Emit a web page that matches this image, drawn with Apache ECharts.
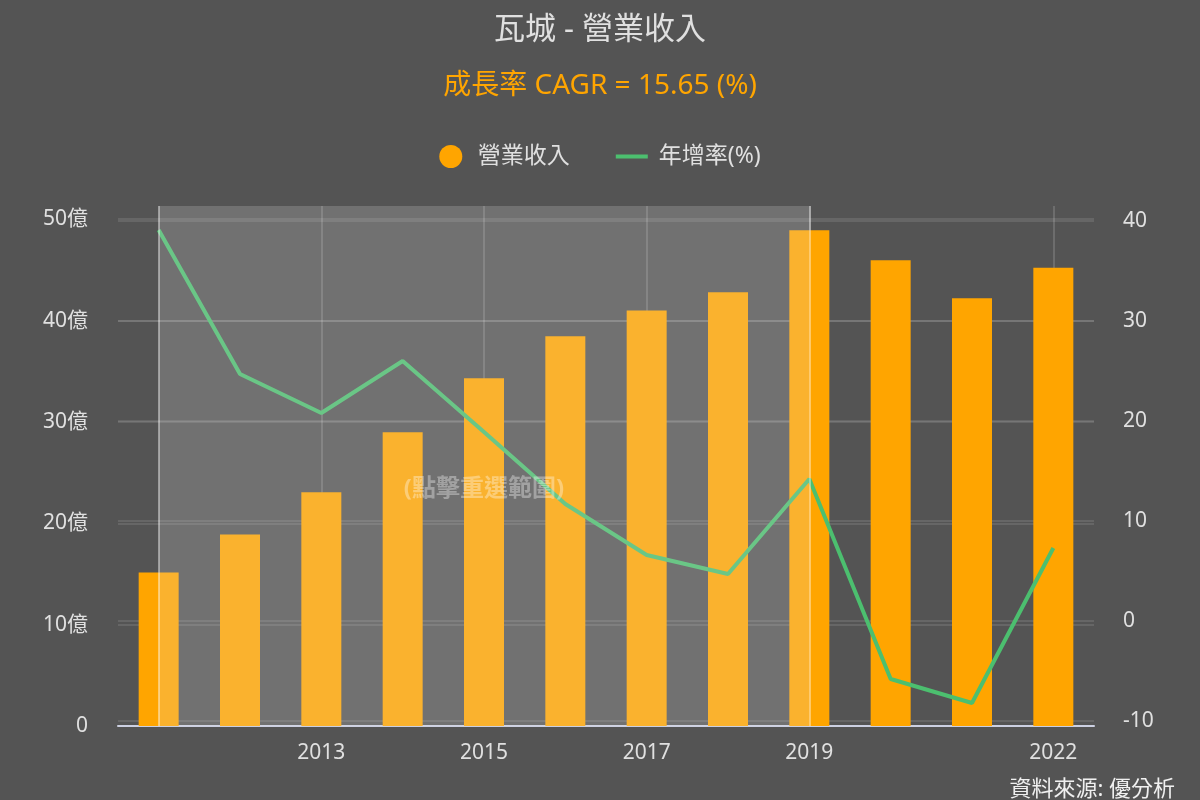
<!DOCTYPE html>
<html>
<head>
<meta charset="utf-8">
<script src="https://cdn.jsdelivr.net/npm/echarts@6/dist/echarts.min.js"></script>
<style>
  html, body { margin: 0; padding: 0; background: #545454; }
  #main { width: 1200px; height: 800px; }
</style>
</head>
<body>
<div id="main"></div>
<script>
// 年度
var years = ['2011', '2012', '2013', '2014', '2015', '2016', '2017', '2018', '2019', '2020', '2021', '2022'];
// 營業收入 (億)
var revenue = [15.15, 18.9, 23.05, 28.97, 34.3, 38.45, 41.0, 42.8, 48.9, 45.95, 42.2, 45.2];
// 年增率 (%)
var growth = [39.1, 24.7, 20.8, 26.0, 18.9, 11.7, 6.6, 4.7, 14.2, -5.8, -8.2, 7.3];
// x 軸顯示的年份
var labelYears = ['2013', '2015', '2017', '2019', '2022'];
// 選取範圍
var rangeStart = '2011';
var rangeEnd = '2019';

var FONT = '"Noto Sans", "Noto Sans CJK TC", sans-serif';
var GRID_LINE = 'rgba(255,255,255,0.15)';
var NONE = 'rgba(0,0,0,0)';
var myChart = echarts.init(document.getElementById('main'));

function showYear(index, value) {
    return labelYears.indexOf(value) >= 0;
}

option = {
    backgroundColor: '#545454',
    animation: false,
    textStyle: { fontFamily: FONT },
    title: [{
        text: '瓦城 - 營業收入',
        left: 'center',
        top: 10,
        textStyle: { color: '#e0e0e0', fontSize: 31, fontWeight: 'normal', fontFamily: FONT }
    }, {
        text: '成長率 CAGR = 15.65 (%)',
        left: 'center',
        top: 67,
        textStyle: { color: '#ffa500', fontSize: 28, fontWeight: 'normal', fontFamily: FONT }
    }, {
        text: '資料來源: 優分析',
        right: 20,
        bottom: -6,
        textStyle: { color: '#f0f0f0', fontSize: 22, fontWeight: 'normal', fontFamily: FONT }
    }],
    legend: {
        top: 140,
        left: 'center',
        itemWidth: 32,
        itemHeight: 23,
        itemGap: 46,
        textStyle: { color: '#e0e0e0', fontSize: 23, padding: [0, 0, 0, 6], fontFamily: FONT },
        data: [
            { name: '營業收入', icon: 'circle' },
            { name: '年增率(%)', icon: 'path://M0,0H32V4H0Z' }
        ]
    },
    grid: {
        left: 118,
        right: 106,
        top: 206,
        bottom: 74
    },
    xAxis: {
        type: 'category',
        data: years,
        axisLine: { lineStyle: { color: '#ccd0e2', width: 2 } },
        axisTick: { show: false },
        axisLabel: {
            interval: showYear,
            color: '#e0e0e0',
            fontSize: 21,
            margin: 17,
            fontFamily: FONT
        },
        splitLine: {
            show: true,
            interval: showYear,
            alignWithLabel: true,
            lineStyle: { color: GRID_LINE, width: 2 }
        }
    },
    yAxis: [{
        type: 'value',
        min: 0,
        max: 51.3,
        interval: 10,
        axisLine: { show: false },
        axisTick: { show: false },
        axisLabel: {
            color: '#e0e0e0',
            fontSize: 21,
            margin: 30,
            fontFamily: FONT,
            formatter: function (v) {
                if (v % 10 !== 0) return '';
                return v === 0 ? '0' : v + '億';
            }
        },
        splitLine: {
            lineStyle: { color: [NONE, GRID_LINE, GRID_LINE, GRID_LINE, GRID_LINE, GRID_LINE, NONE], width: 1.5 }
        }
    }, {
        type: 'value',
        min: -10.5,
        max: 41.5,
        axisLine: { show: false },
        axisTick: { show: false },
        axisLabel: {
            color: '#e0e0e0',
            fontSize: 21,
            margin: 29,
            fontFamily: FONT,
            formatter: function (v) {
                return v % 10 === 0 ? String(v) : '';
            }
        },
        splitLine: {
            lineStyle: { color: [NONE, GRID_LINE, GRID_LINE, GRID_LINE, GRID_LINE, GRID_LINE, GRID_LINE, NONE], width: 1.5 }
        }
    }],
    series: [{
        name: '營業收入',
        type: 'bar',
        barWidth: 40,
        data: revenue,
        itemStyle: { color: '#ffa500' },
        markLine: {
            z: 11,
            silent: true,
            symbol: ['none', 'none'],
            label: { show: false },
            lineStyle: { color: 'rgba(255,255,255,0.4)', type: 'solid', width: 2 },
            data: [{ xAxis: rangeStart }, { xAxis: rangeEnd }]
        }
    }, {
        name: '年增率(%)',
        type: 'line',
        yAxisIndex: 1,
        data: growth,
        symbol: 'none',
        itemStyle: { color: '#4cbf6f' },
        lineStyle: { color: '#4cbf6f', width: 4 },
        markArea: {
            z: 10,
            silent: true,
            itemStyle: { color: 'rgba(230,230,230,0.2)' },
            label: {
                show: true,
                position: 'inside',
                offset: [0, 23],
                formatter: '(點擊重選範圍)',
                color: 'rgba(255,255,255,0.35)',
                fontSize: 24,
                fontWeight: 'bold',
                fontFamily: FONT
            },
            data: [[{ xAxis: years.indexOf(rangeStart) }, { xAxis: years.indexOf(rangeEnd) }]]
        }
    }]
};
myChart.setOption(option);
</script>
</body>
</html>
